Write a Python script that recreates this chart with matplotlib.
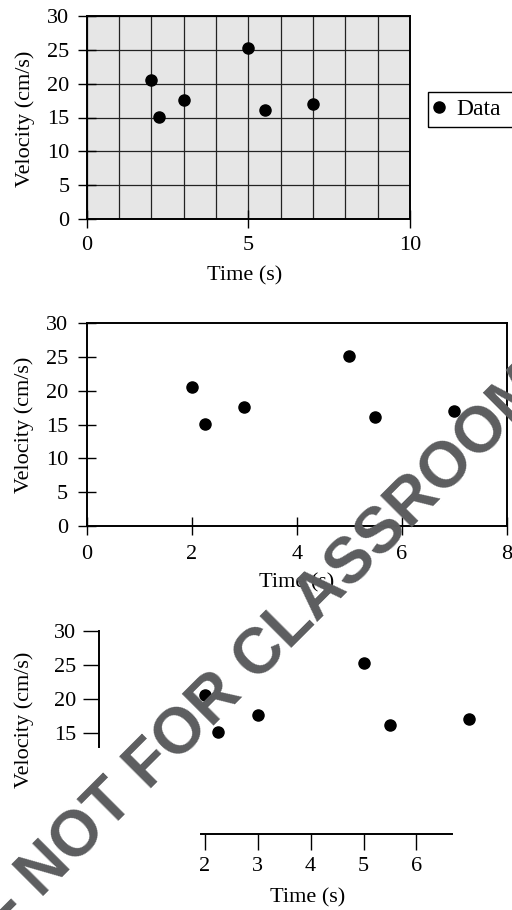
import matplotlib.pyplot as plt
from matplotlib.lines import Line2D
from matplotlib.patches import Rectangle

time_s = [2.0, 2.25, 3.0, 5.0, 5.5, 7.0]
velocity = [20.5, 15.1, 17.6, 25.2, 16.1, 17.0]

y_ticks = [0, 5, 10, 15, 20, 25, 30]
x_ticks_top = [0, 5, 10]
x_ticks_mid = [0, 2, 4, 6, 8]
y_ticks_low = [15, 20, 25, 30]
x_ticks_low = [2, 3, 4, 5, 6]

plt.rcParams["font.family"] = ["Liberation Serif", "DejaVu Serif"]
plt.rcParams["font.size"] = 16

W, H = 512, 910
fig = plt.figure(figsize=(W / 100, H / 100), dpi=100)


def box(left, top, right, bottom):
    # pixel box -> figure fraction
    return [left / W, 1 - bottom / H, (right - left) / W, (bottom - top) / H]


# --- Panel 1: grey background with grid and legend ---
ax1 = fig.add_axes(box(86.7, 16, 410, 219))
ax1.set_facecolor("#e6e6e6")
ax1.set_xlim(0, 10)
ax1.set_ylim(0, 30)
ax1.set_xticks(range(0, 11), minor=True)
ax1.set_xticks(x_ticks_top)
ax1.set_yticks(y_ticks)
ax1.grid(True, which="both", color="#222222", lw=0.9)
ax1.tick_params(axis="x", which="minor", length=0)
ax1.tick_params(which="major", direction="inout", length=13, width=1, pad=6)
ax1.plot(time_s, velocity, "o", color="black", ms=8, zorder=3)
for s in ax1.spines.values():
    s.set_linewidth(1.4)
ax1.set_xlabel("Time (s)", va="center")
ax1.xaxis.set_label_coords(0.49, -0.281)
ax1.set_ylabel("Velocity (cm/s)", va="center")
ax1.yaxis.set_label_coords(-0.191, 0.493)

# legend: box runs off the right edge like in the reference
handle = Line2D([], [], ls="none", marker="o", color="black", ms=8)
fig.legend([handle], ["Data"], loc="center left",
           bbox_to_anchor=(432 / W, 1 - 109.5 / H), borderaxespad=0,
           frameon=False, handlelength=0.6, handletextpad=0.45,
           borderpad=0.0, fontsize=17)
fig.patches.append(Rectangle((428 / W, 1 - 127 / H), 100 / W, 35 / H,
                             transform=fig.transFigure, fill=False,
                             edgecolor="black", lw=1.0))

# --- Panel 2: plain box ---
ax2 = fig.add_axes(box(86.7, 323.3, 506.7, 526))
ax2.set_xlim(0, 8)
ax2.set_ylim(0, 30)
ax2.set_xticks(x_ticks_mid)
ax2.set_yticks(y_ticks)
ax2.tick_params(direction="inout", length=13, width=1, pad=7)
ax2.plot(time_s, velocity, "o", color="black", ms=8, clip_on=False)
for s in ax2.spines.values():
    s.set_linewidth(1.4)
ax2.set_xlabel("Time (s)", va="center")
ax2.xaxis.set_label_coords(0.5, -0.281)
ax2.set_ylabel("Velocity (cm/s)", va="center")
ax2.yaxis.set_label_coords(-0.149, 0.498)

# --- Panel 3: range frame ---
ax3 = fig.add_axes(box(99, 631, 495.75, 834))
ax3.set_xlim(0, 7.5)
ax3.set_ylim(0, 30)
ax3.set_xticks(x_ticks_low)
ax3.set_yticks(y_ticks_low)
ax3.spines["top"].set_visible(False)
ax3.spines["right"].set_visible(False)
ax3.spines["left"].set_bounds(12.8, 30)
ax3.spines["bottom"].set_bounds(1.92, 6.67)
ax3.spines["left"].set_linewidth(1.4)
ax3.spines["bottom"].set_linewidth(1.4)
ax3.tick_params(direction="out", length=11.5, width=1, pad=5)
ax3.plot(time_s, velocity, "o", color="black", ms=8, clip_on=False)
ax3.set_xlabel("Time (s)", va="center")
ax3.xaxis.set_label_coords(0.527, -0.315)
ax3.set_ylabel("Velocity (cm/s)", va="center")
ax3.yaxis.set_label_coords(-0.189, 0.562)

# watermark across the lower two panels
fig.text(13.2 / W, 1 - 926.2 / H, "- NOT FOR CLASSROOM USE", rotation=45,
         rotation_mode="anchor", ha="left", va="baseline",
         family=["Liberation Sans", "DejaVu Sans"], weight="bold",
         fontsize=46, color="#5c5d5f")

fig.savefig("out.png", dpi=100)
